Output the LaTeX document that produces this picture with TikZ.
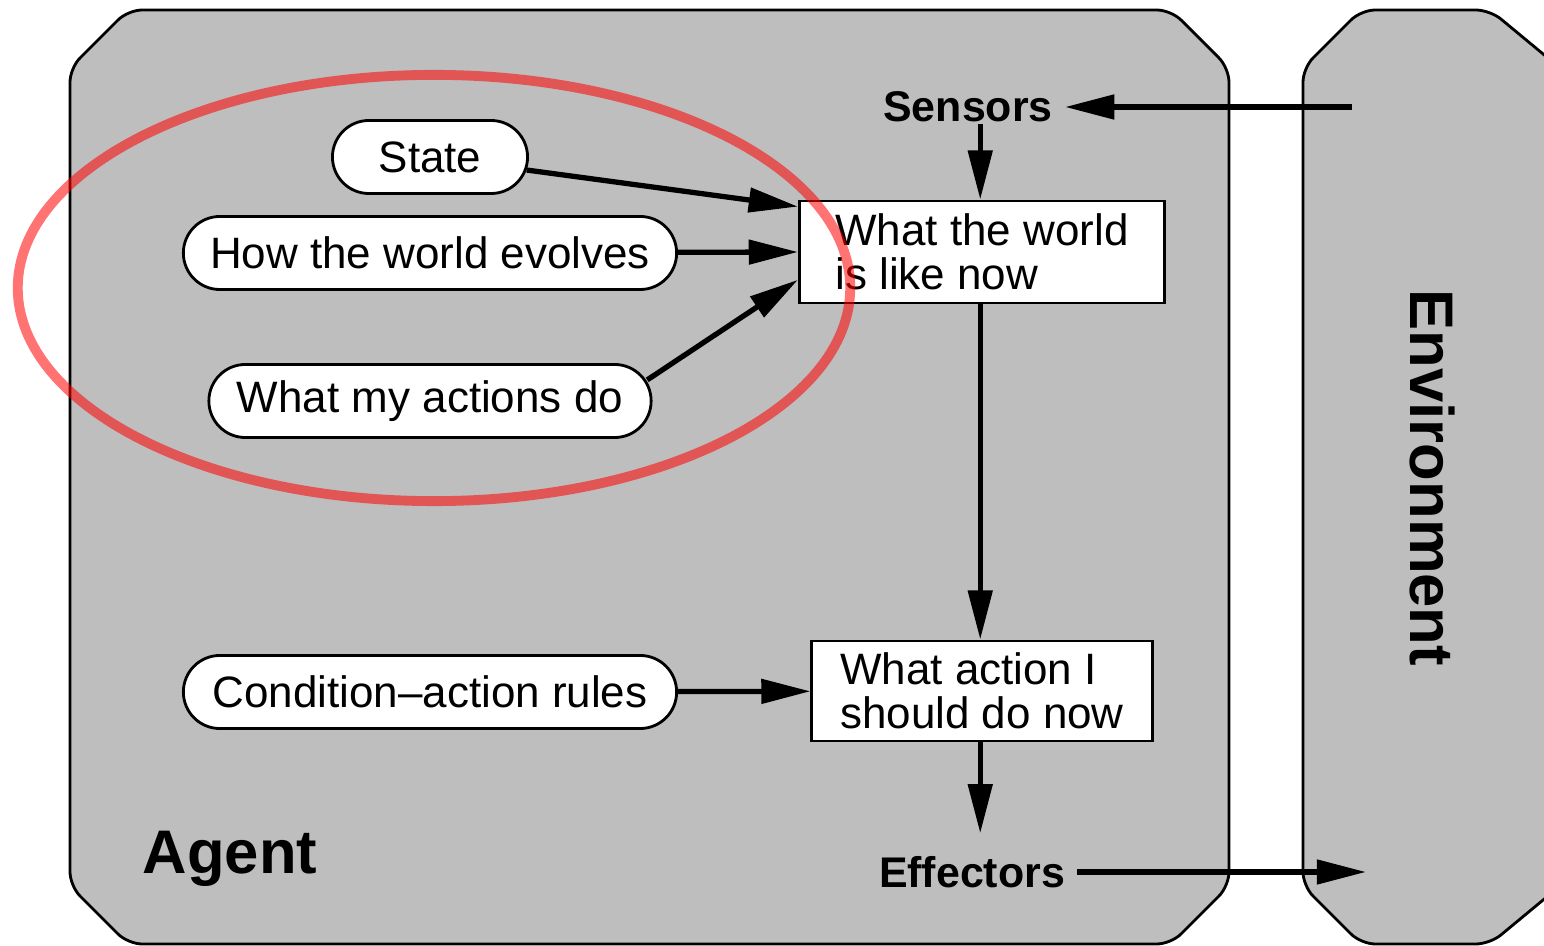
\documentclass[tikz,border=0pt]{standalone}
\usepackage{fontspec}
\setmainfont{Liberation Sans}
\usetikzlibrary{arrows.meta,shapes.misc}
\definecolor{agentgray}{RGB}{190,190,190}
\tikzset{
    panel/.style = {
        draw,
        fill = agentgray,
        line width = 0.8pt,
        rounded corners = 4pt,
        },
    rule/.style = {
        draw,
        fill = white,
        rounded rectangle,
        line width = 0.8pt,
        minimum height = 0.73cm,
        inner xsep = 0pt,
        font = \fontsize{12.5}{12.5}\selectfont,
        },
    stage/.style = {
        draw,
        fill = white,
        line width = 0.8pt,
        align = left,
        font = \fontsize{12.5}{12.5}\selectfont,
        },
    port/.style = {
        font = \bfseries\fontsize{12.2}{12.2}\selectfont,
        },
    title/.style = {
        font = \bfseries\fontsize{17.5}{17.5}\selectfont,
        },
    flow/.style = {
        line width = 1.5pt,
        -{Triangle[length=14pt,width=6.8pt]},
        },
    focus/.style = {
        draw = red,
        opacity = 0.55,
        line width = 2.8pt,
        },
}
\begin{document}
\begin{tikzpicture}[x=0.01cm, y=-0.01cm]
            \clip (0,0) rectangle (1544,946);
            \draw[panel] (70,68) -- (128,10) -- (1171,10) -- (1229,68) -- (1229,886) -- (1171,944) -- (128,944) -- (70,886) -- cycle;
            \draw[panel] (1303,68) -- (1361,10) -- (1490,10) -- (1560,68) -- (1560,886) -- (1490,944) -- (1361,944) -- (1303,886) -- cycle;

            \node[rule, minimum width=1.95cm] (state) at (430,157) {State};
            \node[rule, minimum width=4.93cm] (evolves) at (430,253) {How the world evolves};
            \node[rule, minimum width=4.42cm] (actions) at (430,401) {What my actions do};
            \node[rule, minimum width=4.93cm] (rules) at (430,692) {Condition--action rules};

            \node[stage, minimum width=3.65cm, minimum height=1.02cm] (world) at (982,252) {What the world\\is like now};
            \node[stage, minimum width=3.40cm, minimum height=1.00cm] (decide) at (982,691) {What action I\\should do now};

            \node[port] (sensors) at (968,107) {Sensors};
            \node[port] (effectors) at (972,872) {Effectors};
            \node[title] (agent) at (230,859) {Agent};
            \node[title, rotate=-90] (environment) at (1432,478) {Environment};
            \coordinate (percept) at (1352,107);
            \coordinate (act) at (1366,872);

            \draw[flow] (percept) -- (sensors);
            \draw[flow] ([xshift=-0.5pt,yshift=3pt]world.north |- sensors.south) -- ([xshift=-0.5pt]world.north);
            \draw[flow] ([xshift=-0.5pt]world.south) -- ([xshift=-0.5pt]decide.north);
            \draw[flow] ([xshift=-0.5pt]decide.south) -- ([xshift=-0.5pt,yshift=3pt]effectors.north -| decide);
            \draw[flow] (effectors) -- (act);

            \draw[flow] (state) -- ([yshift=-2pt]world.north west);
            \draw[flow] (evolves) -- (world.west);
            \draw[flow] ([xshift=-1.5pt,yshift=6pt]actions.east) -- ([yshift=7pt]world.south west);
            \draw[flow] (rules) -- (decide);

            \draw[focus] (434,288) ellipse [x radius=4.16cm, y radius=2.13cm];
        \end{tikzpicture}
\end{document}
